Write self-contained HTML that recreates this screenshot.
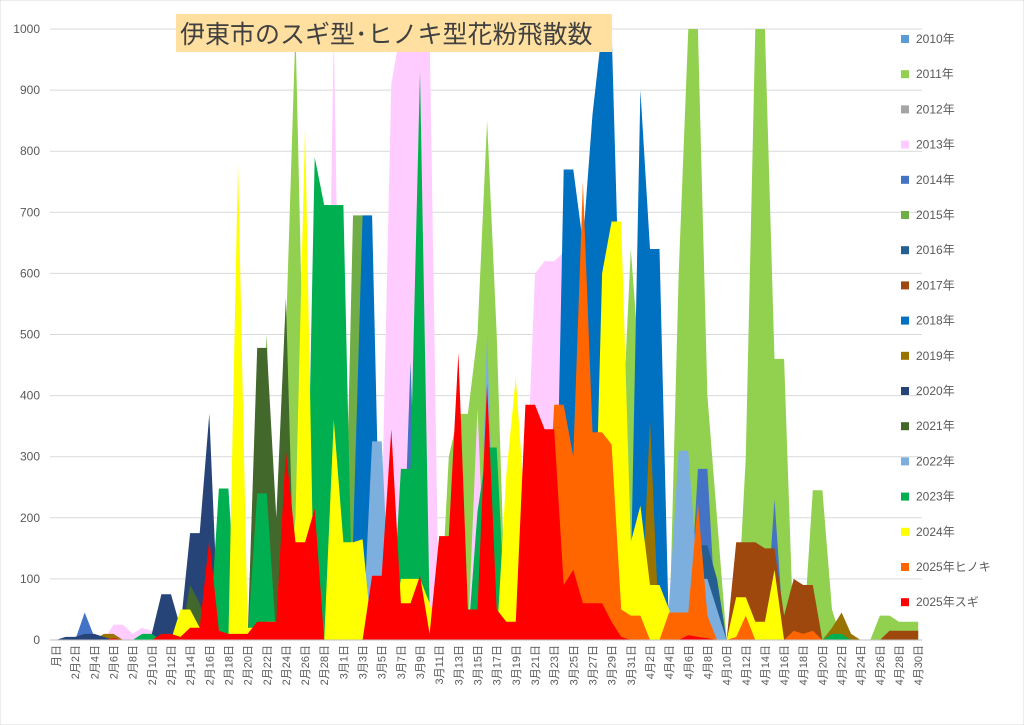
<!DOCTYPE html>
<html><head><meta charset="utf-8">
<style>
body{margin:0;background:#fff;}
#wrap{position:relative;width:1024px;height:725px;overflow:hidden;font-family:"Liberation Sans","Noto Sans CJK JP",sans-serif;}
svg text{font-family:"Liberation Sans","Noto Sans CJK JP",sans-serif;}
</style></head><body>
<div id="wrap">
<svg id="s" width="1024" height="725" xmlns="http://www.w3.org/2000/svg"></svg>
</div>
<script>
const S=document.getElementById('s');const NS='http://www.w3.org/2000/svg';
function el(t,a,txt){const e=document.createElementNS(NS,t);for(const k in a)e.setAttribute(k,a[k]);if(txt!==undefined)e.textContent=txt;S.appendChild(e);return e;}
const X=d=>56+9.58*d, Y=v=>640-0.611*Math.min(v,1000);
el('rect',{x:0,y:0,width:1024,height:725,fill:'#fff',stroke:'#d9d9d9'});
for(let v=0;v<=1000;v+=100){el('line',{x1:50,x2:922,y1:Y(v),y2:Y(v),stroke:'#d9d9d9','stroke-width':1});
el('text',{x:40,y:Y(v)+4,'text-anchor':'end','font-size':12,fill:'#595959'},String(v));}
const series=[
['#5b9bd5',{}],
['#92d050',{22:0,24:500,25:1000,26:300,27:450,28:0,40:0,41:300,42:370,43:370,44:500,45:850,46:500,47:0,58:0,59:300,60:640,61:430,62:430,63:0,64:0,65:600,66:1000,67:1000,68:400,69:200,70:0,71:0,72:300,73:1000,74:1000,75:460,76:460,77:0,78:0,79:245,80:245,81:50,82:0,85:0,86:40,87:40,88:30,89:30,90:30}],
['#a5a5a5',{}],
['#ffccff',{5:0,6:25,7:25,8:10,9:20,10:15,11:0,28:0,29:1000,30:0,33:0,34:200,35:910,36:1000,37:1000,38:1000,39:1000,40:0,43:0,44:380,45:0,47:0,48:420,49:200,50:600,51:620,52:620,53:635,54:0}],
['#4472c4',{1:0,2:0,3:45,4:5,5:0,36:0,37:455,38:0,66:0,67:280,68:280,69:0,74:0,75:230,76:0}],
['#70ad47',{20:0,21:200,22:500,23:0,30:0,31:695,32:695,33:0}],
['#255e91',{66:0,67:155,68:155,69:100,70:0,74:0,75:90,76:0}],
['#9e480e',{70:0,71:160,72:160,73:160,74:150,75:150,76:40,77:100,78:90,79:90,80:0,86:0,87:15,88:15,89:15,90:15}],
['#0070c0',{30:0,31:160,32:695,33:695,34:0,52:0,53:770,54:770,55:650,56:860,57:1000,58:1000,59:440,60:100,61:900,62:640,63:640,64:0}],
['#997300',{4:0,5:10,6:10,7:0,61:0,62:360,63:0,80:0,81:20,82:45,83:10,84:0}],
['#264478',{0:0,1:5,2:5,3:10,4:10,5:5,9:0,10:10,11:75,12:75,13:20,14:175,15:175,16:370,17:0,22:0,23:190,24:0}],
['#43682b',{13:0,14:90,15:60,16:0,20:0,21:478,22:478,23:200,24:560,25:0}],
['#7cafdd',{32:0,33:325,34:325,35:0,44:0,45:500,46:0,63:0,64:60,65:310,66:310,67:100,68:100,69:50,70:0}],
['#00b050',{8:0,9:10,10:10,11:0,16:0,17:248,18:248,19:0,20:0,21:240,22:240,23:0,26:0,27:790,28:712,29:712,30:712,31:0,35:0,36:280,37:280,38:930,39:50,40:0,43:0,44:210,45:315,46:315,47:0,49:0,50:270,51:0,80:0,81:10,82:10,83:0}],
['#ffff00',{12:0,13:50,14:50,15:20,16:0,18:0,19:780,20:20,21:20,22:30,23:30,24:50,25:200,26:840,27:0,28:0,29:360,30:160,31:160,32:165,33:0,35:0,36:100,37:100,38:100,39:60,40:0,46:0,47:270,48:430,49:200,50:40,51:0,56:0,57:600,58:685,59:685,60:160,61:220,62:90,63:90,64:50,65:0,70:0,71:70,72:70,73:30,74:30,75:115,76:0}],
['#ff6600',{50:0,51:100,52:385,53:385,54:300,55:750,56:340,57:340,58:320,59:50,60:40,61:40,62:0,63:0,64:45,65:45,66:45,67:225,68:40,69:0,70:0,71:5,72:40,73:0,76:0,77:15,78:10,79:15,80:0}],
['#ff0000',{0:0,5:0,6:3,10:0,11:10,12:10,13:5,14:20,15:20,16:165,17:15,18:10,19:10,20:10,21:30,22:30,23:30,24:310,25:160,26:160,27:215,28:0,32:0,33:105,34:105,35:345,36:60,37:60,38:105,39:10,40:170,41:170,42:470,43:50,44:50,45:420,46:50,47:30,48:30,49:385,50:385,51:345,52:345,53:90,54:115,55:60,56:60,57:60,58:30,59:5,60:0,65:0,66:8,67:5,68:3,69:0}]
];
for(const [c,m] of series){let pts=[[X(0),640]];for(let d=0;d<=90;d++){pts.push([X(d),Y(m[d]||0)]);}pts.push([X(90),640]);
el('polygon',{points:pts.map(p=>p[0].toFixed(1)+','+p[1].toFixed(1)).join(' '),fill:c});}
el('line',{x1:50,x2:922,y1:640,y2:640,stroke:'#bfbfbf'});
const lab=d=>{if(d===0)return '月日';if(d<=29)return '2月'+d+'日';if(d<=60)return '3月'+(d-29)+'日';return '4月'+(d-60)+'日';};
for(let d=0;d<=90;d+=2){el('text',{x:0,y:0,'font-size':11,fill:'#595959','text-anchor':'end',transform:`translate(${X(d)+4},645) rotate(-90)`},lab(d));}
const names=['2010年','2011年','2012年','2013年','2014年','2015年','2016年','2017年','2018年','2019年','2020年','2021年','2022年','2023年','2024年','2025年ヒノキ','2025年スギ'];
names.forEach((n,i)=>{const y=39+35.2*i;el('rect',{x:901,y:y-4,width:8,height:8,fill:series[i][0]});el('text',{x:916,y:y+4,'font-size':12,fill:'#595959'},n);});
el('rect',{x:176,y:14,width:436,height:38,fill:'#ffe0a0'});
el('text',{x:180,y:43,'font-size':25,fill:'#404040'},'伊東市のスギ型･ヒノキ型花粉飛散数');
</script>
</body></html>
